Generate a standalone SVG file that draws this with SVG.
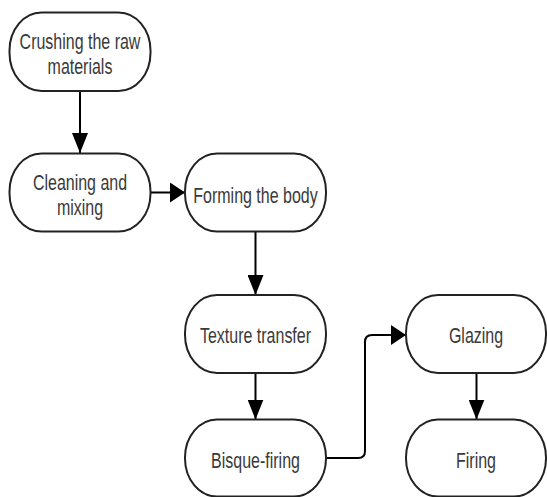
<svg xmlns="http://www.w3.org/2000/svg" width="547" height="497" viewBox="0 0 547 497">
  <style>
    .node rect { fill: #ffffff; stroke: #222222; stroke-width: 2; }
    .node text { font-family: "Liberation Sans", Arial, sans-serif; font-size: 16px; fill: #3a3a3a; text-anchor: middle; }
    .conn path { fill: none; stroke: #000000; stroke-width: 2; }
  </style>
  <defs>
    <marker id="ahV" markerUnits="userSpaceOnUse" markerWidth="20" markerHeight="16" refX="20" refY="8" orient="auto">
      <path d="M0,0 L20,8 L0,16 z" fill="#000000"/>
    </marker>
    <marker id="ahH" markerUnits="userSpaceOnUse" markerWidth="15" markerHeight="20" refX="15" refY="10" orient="auto">
      <path d="M0,0 L15,10 L0,20 z" fill="#000000"/>
    </marker>
  </defs>

  <g id="connectors" class="conn">
    <path d="M80,91 L80,153" marker-end="url(#ahV)"/>
    <path d="M151,192.5 L185,192.5" marker-end="url(#ahH)"/>
    <path d="M255.5,232 L255.5,295" marker-end="url(#ahV)"/>
    <path d="M255.5,373 L255.5,419.5" marker-end="url(#ahV)"/>
    <path d="M326,458 L358,458 Q365,458 365,451 L365,342 Q365,335 372,335 L406,335" marker-end="url(#ahH)"/>
    <path d="M476.5,373 L476.5,419.5" marker-end="url(#ahV)"/>
  </g>

  <g id="n1" class="node">
    <rect x="9.5" y="12.5" width="141" height="78.5" rx="32" ry="38"/>
    <text transform="translate(80,49) scale(1,1.36)">Crushing the raw</text>
    <text transform="translate(80,74) scale(1,1.36)">materials</text>
  </g>
  <g id="n2" class="node">
    <rect x="9.5" y="153.5" width="141" height="78" rx="32" ry="38"/>
    <text transform="translate(80,190) scale(1,1.36)">Cleaning and</text>
    <text transform="translate(80,214.5) scale(1,1.36)">mixing</text>
  </g>
  <g id="n3" class="node">
    <rect x="185" y="153.5" width="141" height="78" rx="32" ry="38"/>
    <text transform="translate(255.5,203) scale(1,1.36)">Forming the body</text>
  </g>
  <g id="n4" class="node">
    <rect x="185" y="295" width="141" height="78" rx="32" ry="38"/>
    <text transform="translate(255.5,343) scale(1,1.36)">Texture transfer</text>
  </g>
  <g id="n5" class="node">
    <rect x="185" y="419.5" width="141" height="77" rx="32" ry="38"/>
    <text transform="translate(255.5,467.5) scale(1,1.36)">Bisque-firing</text>
  </g>
  <g id="n6" class="node">
    <rect x="406" y="295" width="140" height="78" rx="32" ry="38"/>
    <text transform="translate(476,343) scale(1,1.36)">Glazing</text>
  </g>
  <g id="n7" class="node">
    <rect x="406" y="419.5" width="140" height="77" rx="32" ry="38"/>
    <text transform="translate(476,467.5) scale(1,1.36)">Firing</text>
  </g>
</svg>
